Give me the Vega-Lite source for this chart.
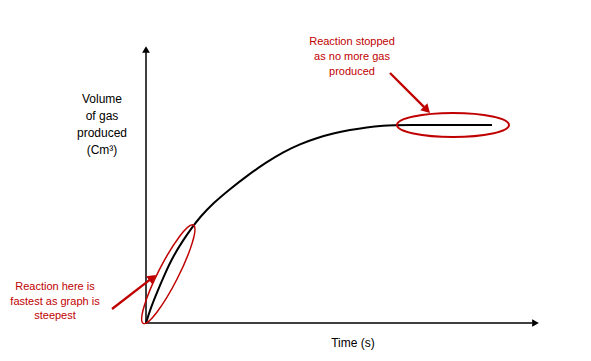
{
  "$schema": "https://vega.github.io/schema/vega-lite/v6.json",
  "width": 591,
  "height": 361,
  "autosize": {"type": "fit", "contains": "padding"},
  "padding": 0,
  "background": "white",
  "config": {"view": {"stroke": null}},
  "datasets": {
    "axes": [
      {"t": 0, "v": 0, "t2": 0, "v2": 27.3},
      {"t": 0, "v": 0, "t2": 38.6, "v2": 0}
    ],
    "arrowUp": [{"t": 0, "v": 27.35}],
    "arrowRight": [{"t": 38.95, "v": 0}],
    "curve": [
      {"t": 0, "v": 0},
      {"t": 0.4, "v": 1.3},
      {"t": 1.07, "v": 3.0},
      {"t": 1.9, "v": 4.95},
      {"t": 2.73, "v": 6.7},
      {"t": 3.73, "v": 8.3},
      {"t": 4.57, "v": 9.5},
      {"t": 5.4, "v": 10.6},
      {"t": 6.73, "v": 12.0},
      {"t": 8.4, "v": 13.4},
      {"t": 10.07, "v": 14.7},
      {"t": 12.07, "v": 16.1},
      {"t": 13.73, "v": 17.1},
      {"t": 15.4, "v": 17.9},
      {"t": 17.07, "v": 18.5},
      {"t": 18.73, "v": 18.97},
      {"t": 20.4, "v": 19.3},
      {"t": 22.07, "v": 19.57},
      {"t": 23.73, "v": 19.73},
      {"t": 25.23, "v": 19.8},
      {"t": 34.6, "v": 19.8}
    ],
    "redLines": [
      {"t": 24.4, "v": 25.0, "t2": 28.09, "v2": 21.31},
      {"t": -3.4, "v": 1.4, "t2": 0.66, "v2": 4.54}
    ],
    "headRight": [{"t": 28.09, "v": 21.31}],
    "headLeft": [{"t": 0.66, "v": 4.54}],
    "ellipseRight": [{"t": 30.7, "v": 19.8}],
    "ellipseLeft": [{"t": 2.23, "v": 4.88}],
    "yLabel": [{"t": -4.4, "v": 22.4, "label": "Volume\nof gas\nproduced\n(Cm³)"}],
    "xLabel": [{"t": 20.7, "v": -2.0, "label": "Time (s)"}],
    "noteTop": [{"t": 20.6, "v": 28.1, "label": "Reaction stopped\nas no more gas\nproduced"}],
    "noteLeft": [{"t": -9.1, "v": 3.6, "label": "Reaction here is\nfastest as graph is\nsteepest"}]
  },
  "encoding": {
    "x": {"field": "t", "type": "quantitative", "scale": {"domain": [-14.6, 44.5], "nice": false, "zero": false}, "axis": null},
    "y": {"field": "v", "type": "quantitative", "scale": {"domain": [-3.8, 32.3], "nice": false, "zero": false}, "axis": null}
  },
  "layer": [
    {
      "data": {"name": "axes"},
      "mark": {"type": "rule", "color": "black", "strokeWidth": 1.5},
      "encoding": {"x2": {"field": "t2"}, "y2": {"field": "v2"}}
    },
    {
      "data": {"name": "arrowUp"},
      "mark": {"type": "point", "shape": "triangle-up", "size": 60, "filled": true, "color": "black", "opacity": 1, "strokeWidth": 0}
    },
    {
      "data": {"name": "arrowRight"},
      "mark": {"type": "point", "shape": "triangle-right", "size": 60, "filled": true, "color": "black", "opacity": 1, "strokeWidth": 0}
    },
    {
      "data": {"name": "curve"},
      "mark": {"type": "line", "color": "black", "strokeWidth": 2, "interpolate": "basis"}
    },
    {
      "data": {"name": "redLines"},
      "mark": {"type": "rule", "color": "#C00000", "strokeWidth": 2.3},
      "encoding": {"x2": {"field": "t2"}, "y2": {"field": "v2"}}
    },
    {
      "data": {"name": "headRight"},
      "mark": {"type": "point", "shape": "triangle-up", "size": 100, "angle": 135, "filled": true, "color": "#C00000", "opacity": 1, "strokeWidth": 0}
    },
    {
      "data": {"name": "headLeft"},
      "mark": {"type": "point", "shape": "triangle-up", "size": 100, "angle": 52.3, "filled": true, "color": "#C00000", "opacity": 1, "strokeWidth": 0}
    },
    {
      "data": {"name": "ellipseRight"},
      "mark": {"type": "point", "shape": "M-1,0C-1,-0.118,-0.552,-0.214,0,-0.214C0.552,-0.214,1,-0.118,1,0C1,0.118,0.552,0.214,0,0.214C-0.552,0.214,-1,0.118,-1,0Z", "size": 12544, "filled": false, "color": "#C00000", "opacity": 1, "strokeWidth": 2}
    },
    {
      "data": {"name": "ellipseLeft"},
      "mark": {"type": "point", "shape": "M-1,0C-1,-0.1,-0.552,-0.181,0,-0.181C0.552,-0.181,1,-0.1,1,0C1,0.1,0.552,0.181,0,0.181C-0.552,0.181,-1,0.1,-1,0Z", "size": 12188, "angle": 297, "filled": false, "color": "#C00000", "opacity": 1, "strokeWidth": 1.5}
    },
    {
      "data": {"name": "yLabel"},
      "mark": {"type": "text", "font": "Liberation Sans", "fontSize": 12, "lineHeight": 17, "lineBreak": "\n", "align": "center", "baseline": "middle", "color": "black"},
      "encoding": {"text": {"field": "label"}}
    },
    {
      "data": {"name": "xLabel"},
      "mark": {"type": "text", "font": "Liberation Sans", "fontSize": 12, "align": "center", "baseline": "middle", "color": "black"},
      "encoding": {"text": {"field": "label"}}
    },
    {
      "data": {"name": "noteTop"},
      "mark": {"type": "text", "font": "Liberation Sans", "fontSize": 11, "lineHeight": 15, "lineBreak": "\n", "align": "center", "baseline": "middle", "color": "#C00000"},
      "encoding": {"text": {"field": "label"}}
    },
    {
      "data": {"name": "noteLeft"},
      "mark": {"type": "text", "font": "Liberation Sans", "fontSize": 11, "lineHeight": 14.5, "lineBreak": "\n", "align": "center", "baseline": "middle", "color": "#C00000"},
      "encoding": {"text": {"field": "label"}}
    }
  ]
}
